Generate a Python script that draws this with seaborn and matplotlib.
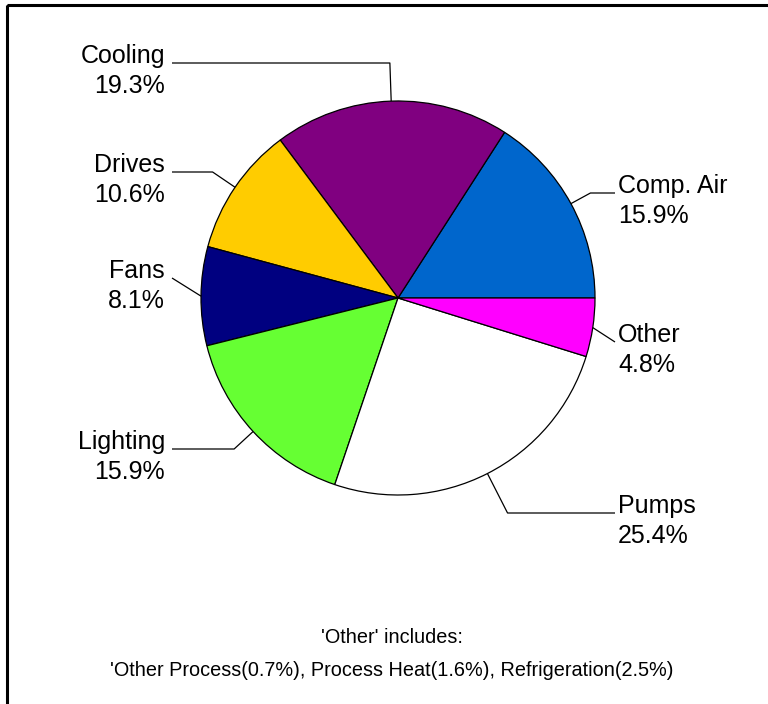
import matplotlib
matplotlib.use("Agg")
import matplotlib.pyplot as plt
import seaborn as sns
import numpy as np
from matplotlib.patches import Rectangle

# ---- data ----
categories = ["Comp. Air", "Cooling", "Drives", "Fans", "Lighting", "Pumps", "Other"]
shares = [15.9, 19.3, 10.6, 8.1, 15.9, 25.4, 4.8]
colors = ["#0066CC", "#800080", "#FFCC00", "#000080", "#66FF33", "#FFFFFF", "#FF00FF"]
other_parts = ["Other Process", "Process Heat", "Refrigeration"]
other_shares = [0.7, 1.6, 2.5]

# ---- layout (pixels from top-left) ----
label_baseline_y = [193, 63, 172, 278, 449, 513, 342]

sns.set_theme(style="white")
plt.rcParams['font.family'] = ['Liberation Sans', 'DejaVu Sans']

W, H = 768, 704
fig = plt.figure(figsize=(W / 100, H / 100), dpi=100)
fig.patch.set_facecolor("white")
ax = fig.add_axes([0, 0, 1, 1])

cx, cy, R = 398, 298, 197
wedges, _ = ax.pie(shares, colors=colors, startangle=0, counterclock=False,
                   center=(cx, cy), radius=R,
                   wedgeprops=dict(edgecolor="black", linewidth=0.9))
ax.set_xlim(0, W)
ax.set_ylim(H, 0)
ax.set_aspect("equal")
ax.axis("off")

lab_fs = 18
line_gap = 30
for w, name, val, ly in zip(wedges, categories, shares, label_baseline_y):
    m = np.deg2rad((w.theta1 + w.theta2) / 2)
    ax_, ay_ = cx + R * np.cos(m), cy + R * np.sin(m)
    right = np.cos(m) > 0
    tx = 618 if right else 165
    lx = 615 if right else 172
    s = np.sin(m)
    pts = [(ax_, ay_)]
    straight = True
    if abs(s) > 1e-3:
        t = (ly - ay_) / s
        if t > 0:
            ex = ax_ + t * np.cos(m)
            if (right and ex < lx) or ((not right) and ex > lx):
                pts.append((ex, ly))
                straight = False
    pts.append((lx, ly))
    xs, ys = zip(*pts)
    ax.plot(xs, ys, color="black", lw=0.9, solid_capstyle="butt")
    ha = "left" if right else "right"
    ax.text(tx, ly, name, ha=ha, va="baseline", fontsize=lab_fs, color="black")
    ax.text(tx, ly + line_gap, f"{val:.1f}%", ha=ha, va="baseline",
            fontsize=lab_fs, color="black")

foot2 = "'" + ", ".join(f"{n}({v:.1f}%)" for n, v in zip(other_parts, other_shares))
ax.text(392, 643, "'Other' includes:", ha="center", va="baseline",
        fontsize=14.3, color="black")
ax.text(392, 676, foot2, ha="center", va="baseline", fontsize=14.3, color="black")

# frame (left and top edges visible)
ax.add_patch(Rectangle((7, 5), 900, 900, fill=False, edgecolor="black",
                       lw=2.2, clip_on=False))

fig.savefig("out.png", dpi=100, facecolor="white")
